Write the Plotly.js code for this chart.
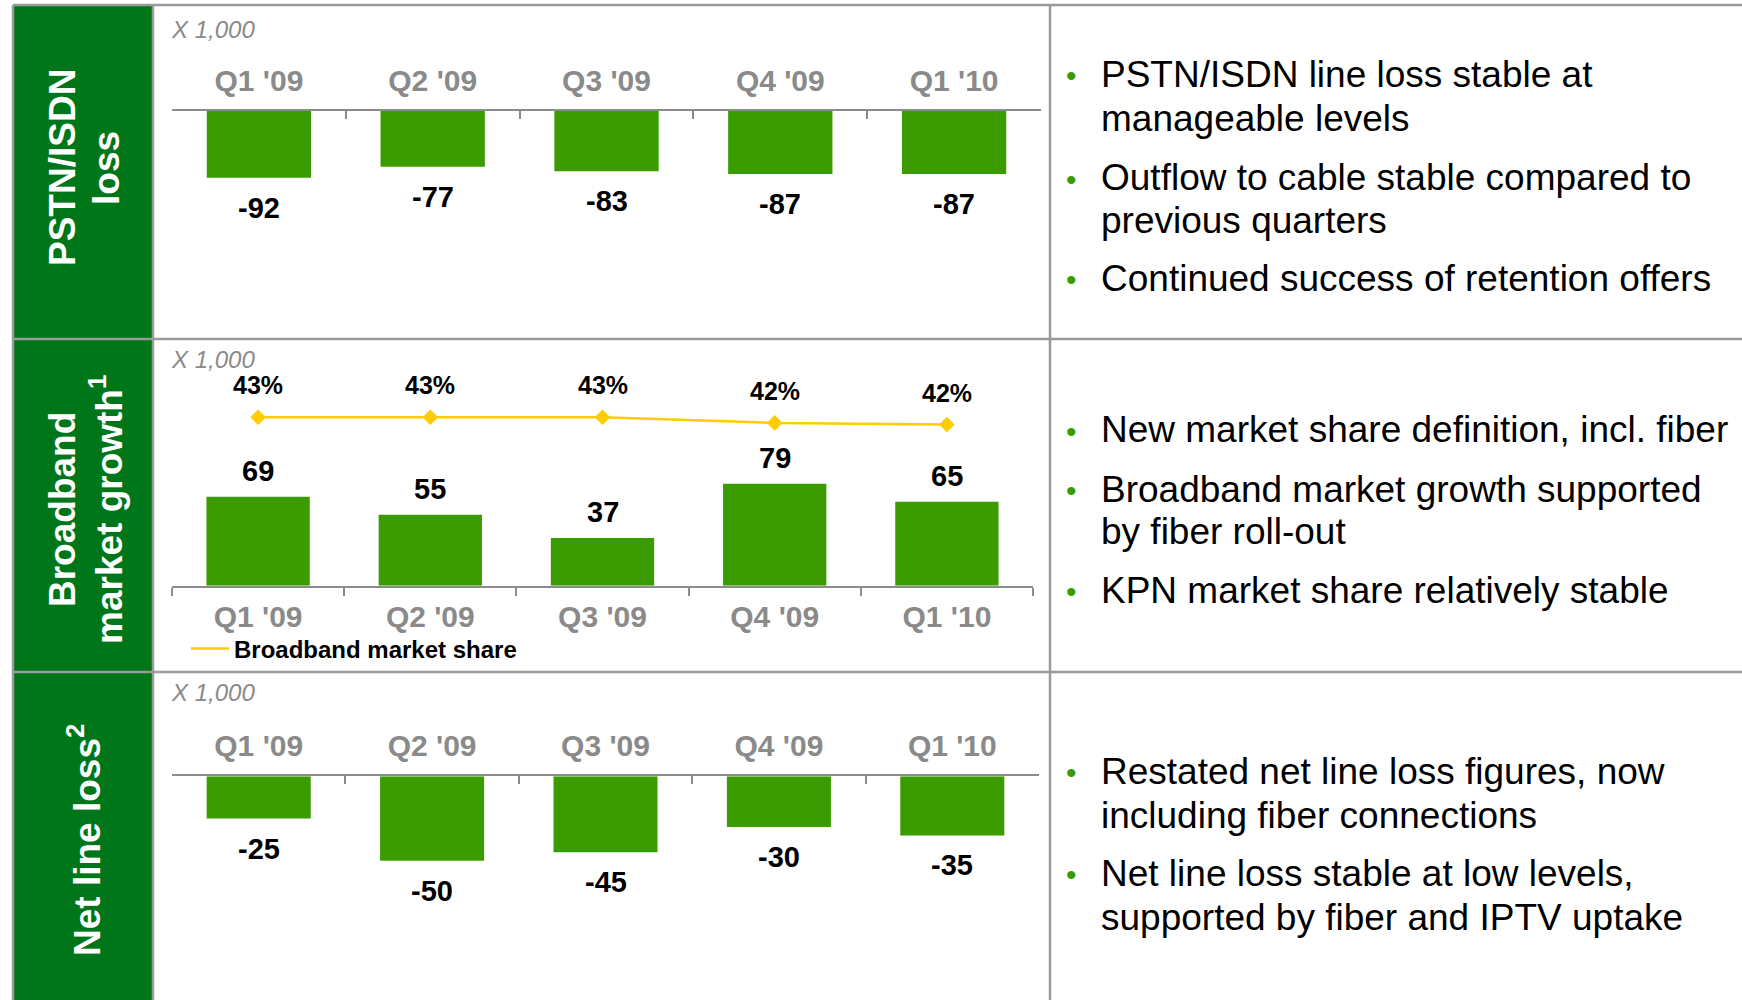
<!DOCTYPE html>
<html><head><meta charset="utf-8">
<script src="https://cdn.plot.ly/plotly-3.0.1.min.js"></script>
<style>html,body{margin:0;padding:0;background:#fff;overflow:hidden}#chart{width:1742px;height:1000px}</style>
</head><body><div id="chart"></div>
<script>
// ---------- data ----------
const categories = ["Q1 '09", "Q2 '09", "Q3 '09", "Q4 '09", "Q1 '10"];
const pstnIsdnLoss = [-92, -77, -83, -87, -87];
const broadbandGrowth = [69, 55, 37, 79, 65];
const broadbandShare = [43.0, 43.0, 43.0, 42.3, 42.1];
const netLineLoss = [-25, -50, -45, -30, -35];
const unitLabel = "X 1,000";
const legendLabel = "Broadband market share";
const rowTitles = [["PSTN/ISDN", "loss"], ["Broadband", "market growth<sup>1</sup>"], ["Net line loss<sup>2</sup>"]];
const bulletsRow1 = [["PSTN/ISDN line loss stable at", "manageable levels"], ["Outflow to cable stable compared to", "previous quarters"], ["Continued success of retention offers"]];
const bulletsRow2 = [["New market share definition, incl. fiber"], ["Broadband market growth supported", "by fiber roll-out"], ["KPN market share relatively stable"]];
const bulletsRow3 = [["Restated net line loss figures, now", "including fiber connections"], ["Net line loss stable at low levels,", "supported by fiber and IPTV uptake"]];

// ---------- styling / geometry ----------
const W = 1742, H = 1000;
const FONT = 'Liberation Sans, Arial, sans-serif';
const BAR = '#3A9C00', DARKGREEN = '#00761A', GRID = '#9a9a9a', AXIS = '#8c8c8c', TICKTXT = '#8a8a8a', YELLOW = '#FFCC00';
const px = v => v / W, py = v => 1 - v / H;

const bulletLineY = [[[75, 118], [178, 221], [278]], [[430], [489, 531], [590]], [[771, 815], [873, 917]]];

const traces = [
  {type: 'bar', x: categories, y: pstnIsdnLoss, xaxis: 'x', yaxis: 'y', marker: {color: BAR}, showlegend: false},
  {type: 'bar', x: categories, y: broadbandGrowth, xaxis: 'x2', yaxis: 'y2', marker: {color: BAR}, showlegend: false},
  {type: 'scatter', mode: 'lines', x: categories, y: broadbandShare, xaxis: 'x2', yaxis: 'y4', name: legendLabel,
   line: {color: YELLOW, width: 2.5}, showlegend: true},
  {type: 'scatter', mode: 'markers', x: categories, y: broadbandShare, xaxis: 'x2', yaxis: 'y4',
   marker: {color: YELLOW, symbol: 'diamond', size: 12}, showlegend: false},
  {type: 'bar', x: categories, y: netLineLoss, xaxis: 'x3', yaxis: 'y3', marker: {color: BAR}, showlegend: false}
];

function catAxis(domain, anchor, side, ticks, standoff) {
  return {domain: domain, anchor: anchor, side: side, type: 'category',
    showline: true, linecolor: AXIS, linewidth: 2.5, ticks: ticks, tickson: 'boundaries', ticklen: 8, tickwidth: 2, tickcolor: AXIS,
    showgrid: false, zeroline: false, fixedrange: true, ticklabelstandoff: standoff,
    tickfont: {family: FONT, size: 30, color: TICKTXT, weight: 'bold'}};
}
function hidden(domain, range, extra) {
  return Object.assign({domain: domain, range: range, visible: false, fixedrange: true}, extra || {});
}

const annotations = [];
const valFont = {family: FONT, size: 29, color: '#000', weight: 'bold'};
categories.forEach((c, i) => {
  annotations.push({xref: 'x', yref: 'y', x: c, y: pstnIsdnLoss[i], text: String(pstnIsdnLoss[i]), showarrow: false, yshift: -30, yanchor: 'middle', font: valFont});
  annotations.push({xref: 'x2', yref: 'y2', x: c, y: broadbandGrowth[i], text: String(broadbandGrowth[i]), showarrow: false, yshift: 26, yanchor: 'middle', font: valFont});
  annotations.push({xref: 'x2', yref: 'y4', x: c, y: broadbandShare[i], text: Math.round(broadbandShare[i]) + '%', showarrow: false, yshift: 32, yanchor: 'middle', font: {family: FONT, size: 25, color: '#000', weight: 'bold'}});
  annotations.push({xref: 'x3', yref: 'y3', x: c, y: netLineLoss[i], text: String(netLineLoss[i]), showarrow: false, yshift: -30, yanchor: 'middle', font: valFont});
});
[29, 359, 692].forEach(yy => annotations.push({xref: 'paper', yref: 'paper', x: px(169), y: py(yy), xanchor: 'left', yanchor: 'middle', showarrow: false,
  text: '<i>' + unitLabel + '</i>', font: {family: FONT, size: 24, color: '#8a8a8a'}}));

// row titles (rotated)
const titleX = [[62, 106], [62, 106], [84]];
const titleY = [168, 510, 840];
rowTitles.forEach((lines, r) => lines.forEach((t, k) => annotations.push({xref: 'paper', yref: 'paper', x: px(titleX[r][k]), y: py(titleY[r]),
  xanchor: 'center', yanchor: 'middle', textangle: -90, showarrow: false, text: '<b>' + t + '</b>', font: {family: FONT, size: 37, color: '#fff'}})));

// bullets
[bulletsRow1, bulletsRow2, bulletsRow3].forEach((rows, r) => rows.forEach((lines, b) => {
  annotations.push({xref: 'paper', yref: 'paper', x: px(1071), y: py(bulletLineY[r][b][0] + 1), xanchor: 'center', yanchor: 'middle', showarrow: false,
    text: '•', font: {family: FONT, size: 30, color: BAR}});
  lines.forEach((t, k) => annotations.push({xref: 'paper', yref: 'paper', x: px(1099), y: py(bulletLineY[r][b][k]), xanchor: 'left', yanchor: 'middle',
    showarrow: false, text: t, font: {family: FONT, size: 37, color: '#000'}}));
}));

const shapes = [
  {type: 'rect', xref: 'paper', yref: 'paper', x0: px(13), x1: px(153), y0: py(5), y1: py(1000), fillcolor: DARKGREEN, line: {width: 0}, layer: 'below'}
];
[5, 339, 672].forEach(yy => shapes.push({type: 'line', xref: 'paper', yref: 'paper', x0: px(13), x1: 1, y0: py(yy), y1: py(yy), line: {color: GRID, width: 2.5}}));
[13, 153, 1050].forEach(xx => shapes.push({type: 'line', xref: 'paper', yref: 'paper', x0: px(xx), x1: px(xx), y0: py(5), y1: 0, line: {color: GRID, width: 2.5}}));

const layout = {
  width: W, height: H, margin: {l: 0, r: 0, t: 0, b: 0}, paper_bgcolor: '#fff', plot_bgcolor: 'rgba(0,0,0,0)',
  bargap: 0.4, hovermode: false,
  xaxis: catAxis([px(172), px(1041)], 'y', 'top', 'inside', 6),
  yaxis: hidden([py(330), py(111)], [-302.1, 0]),
  xaxis2: catAxis([px(172), px(1033)], 'y2', 'bottom', 'outside', 3),
  yaxis2: hidden([py(585.7), py(345)], [0, 186.6]),
  yaxis4: hidden([py(585.7), py(345)], [21.95, 52.04], {overlaying: 'y2', anchor: 'x2'}),
  xaxis3: catAxis([px(172), px(1039)], 'y3', 'top', 'inside', 6),
  yaxis3: hidden([py(995), py(776.3)], [-129.4, 0]),
  showlegend: true,
  legend: {x: px(186), y: py(649), xanchor: 'left', yanchor: 'middle', bgcolor: 'rgba(0,0,0,0)', borderwidth: 0, itemwidth: 38,
    font: {family: FONT, size: 24, color: '#000', weight: 'bold'}},
  annotations: annotations, shapes: shapes
};
Plotly.newPlot('chart', traces, layout, {staticPlot: true, displayModeBar: false});
</script></body></html>
